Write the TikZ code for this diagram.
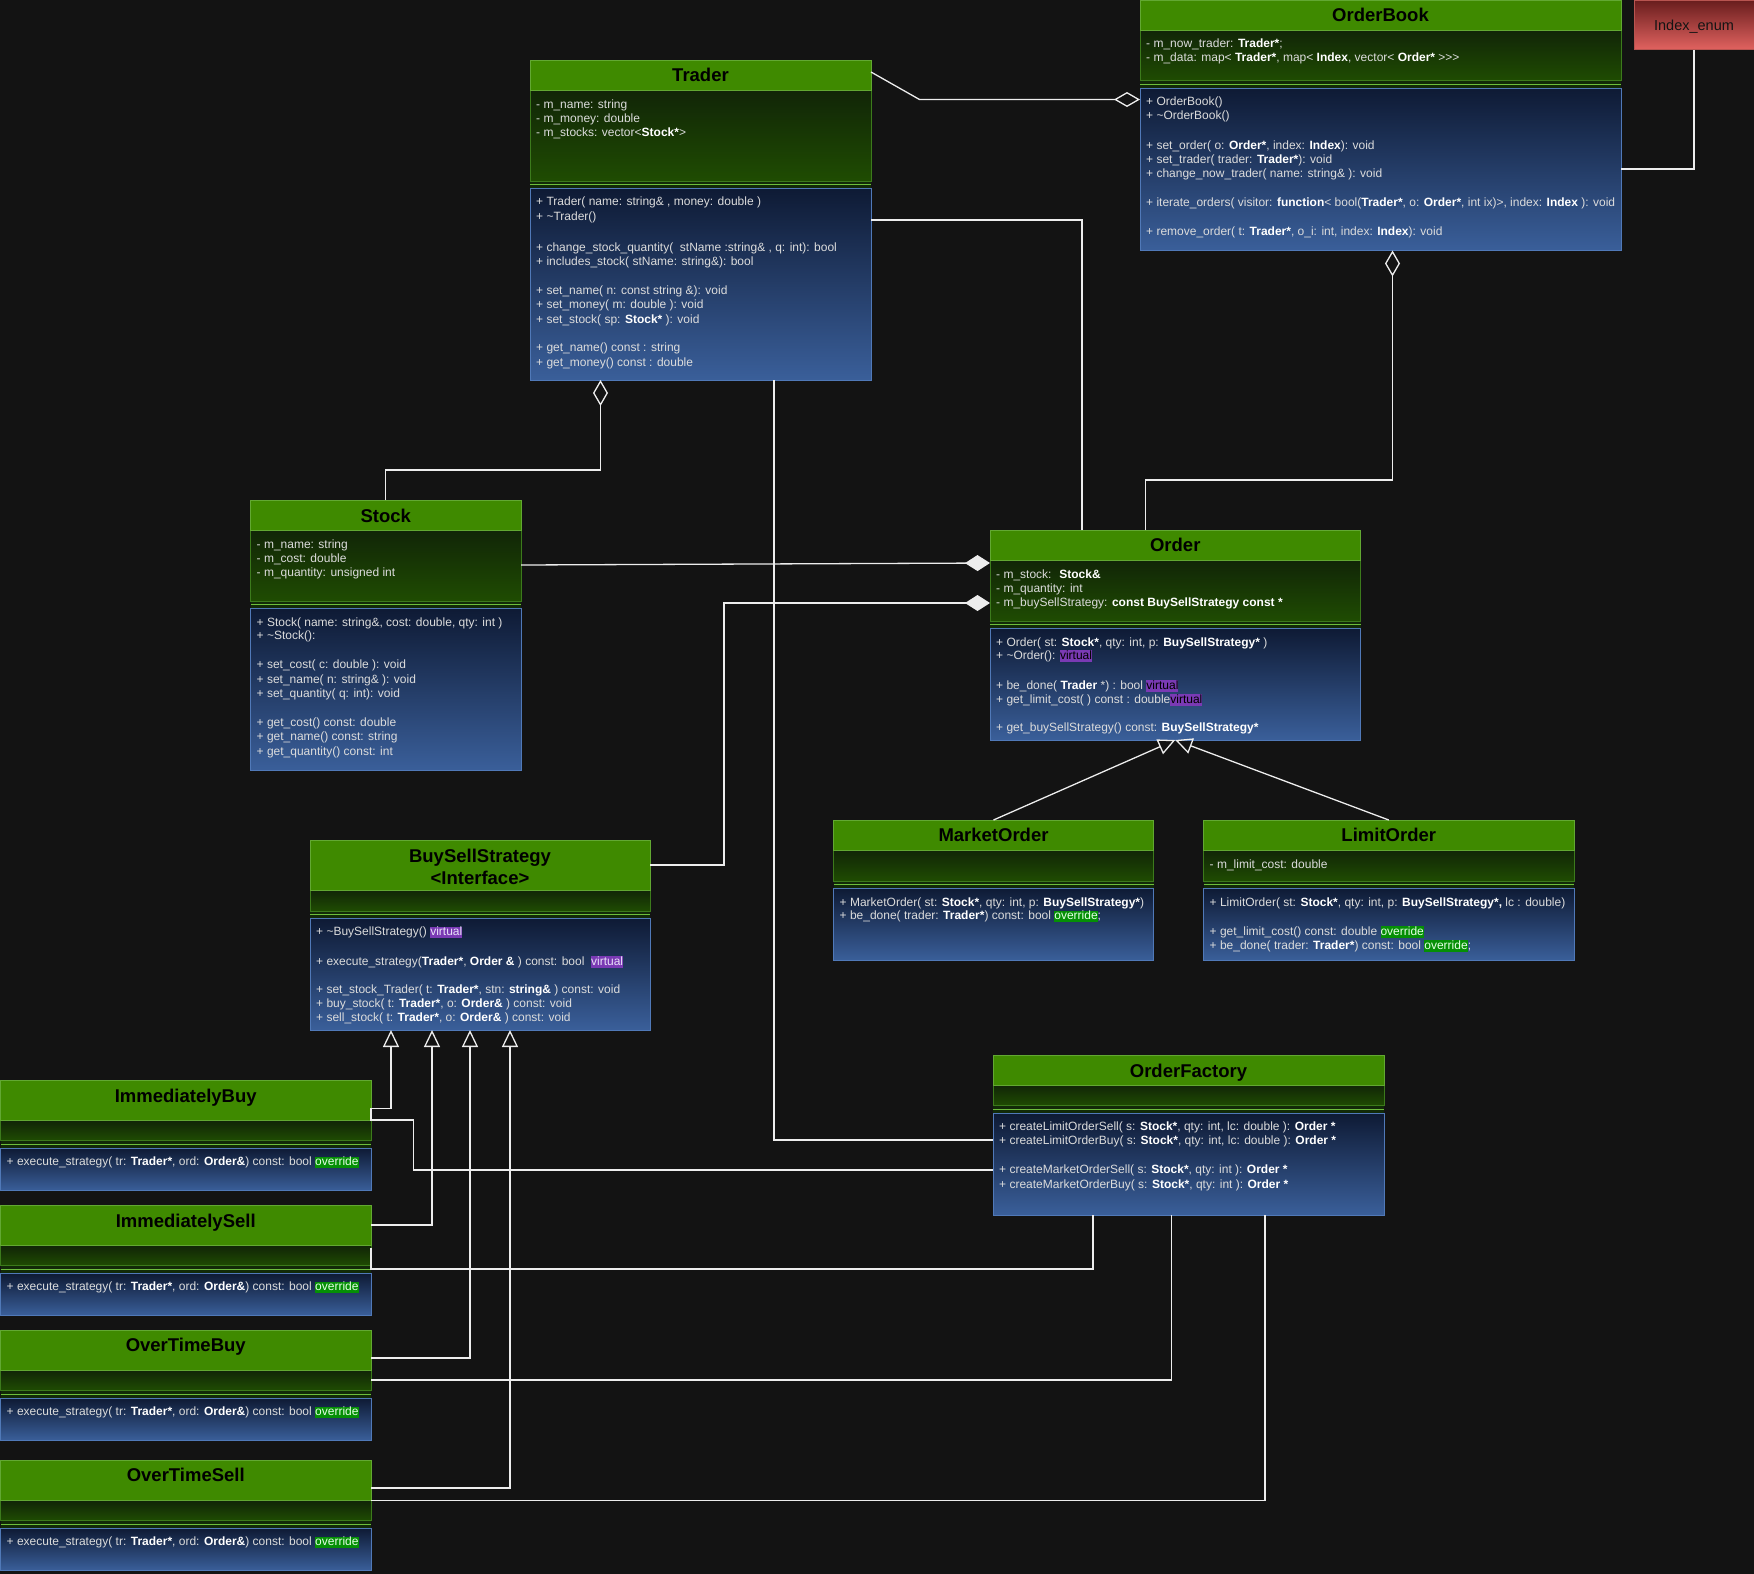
\documentclass[tikz,border=0pt]{standalone}
\usepackage{fontspec}
\setmainfont{Liberation Sans}
\usetikzlibrary{arrows.meta,fit}

\definecolor{bg}{HTML}{131313}
\definecolor{hdr}{HTML}{3F8A00}
\definecolor{hdrline}{HTML}{62A832}
\definecolor{attrtop}{HTML}{112507}
\definecolor{attrbot}{HTML}{1F4C02}
\definecolor{attrline}{HTML}{3C7A1C}
\definecolor{divfill}{HTML}{122A08}
\definecolor{divline}{HTML}{6DBE3C}
\definecolor{mtop}{HTML}{0E1A34}
\definecolor{mbot}{HTML}{3A5F9A}
\definecolor{mline}{HTML}{5079B8}
\definecolor{memtext}{HTML}{DCDCDC}
\definecolor{memwhite}{HTML}{FFFFFF}
\definecolor{virtbg}{HTML}{7A3AB4}
\definecolor{virttext}{HTML}{E8E0F8}
\definecolor{ovrbg}{HTML}{058F05}
\definecolor{ovrtext}{HTML}{E4FFE4}
\definecolor{enumtop}{HTML}{6A1E1E}
\definecolor{enumbot}{HTML}{E0625F}
\definecolor{enumline}{HTML}{B85450}
\definecolor{wire}{HTML}{EDEDED}

\tikzset{
  member/.style={anchor=base west, inner sep=0pt, text=memtext,
    font=\fontsize{12}{14.4}\selectfont},
  ctitle/.style={anchor=base, inner sep=0pt, text=black,
    font=\fontsize{18.5}{20}\selectfont\bfseries},
  conn/.style={draw=wire, line width=1.3pt},
  aggr/.style={conn, -{Diamond[open,length=26pt,width=15pt]}},
  comp/.style={conn, -{Diamond[fill=wire,length=25pt,width=16pt]}},
  inh/.style={conn, -{Triangle[open,length=17pt,width=16pt]}},
}

% bold type names inside member lines
\newcommand\bt[1]{{\bfseries\color{memwhite}#1}}
% highlighted keywords
\newcommand\hlword[3]{{\fboxsep=0pt\colorbox{#1}{\rule[-2.7pt]{0pt}{11.8pt}\color{#2}#3}}}
\newcommand\virt{\hlword{virtbg}{black}{virtual}}
\newcommand\virtl{\hlword{virtbg}{virttext}{virtual}}
\newcommand\ovr{\hlword{ovrbg}{ovrtext}{override}}

% one member line: left edge of the class, vertical centre, text
\newcounter{memno}
\newcommand\mem[3]{\stepcounter{memno}\edef\memname{member-\arabic{memno}}%
  \node[member] (\memname) at (#1+6,#2+4) {#3};}

% class box: name, x1, x2, top, header bottom, attribute bottom, divider bottom, bottom
\newcommand\classbox[8]{%
  \shade[top color=attrtop, bottom color=attrbot] (#2,#5) rectangle (#3,#6);
  \fill[divfill] (#2,#6) rectangle (#3,#7);
  \shade[top color=mtop, bottom color=mbot] (#2,#7) rectangle (#3,#8);
  \fill[hdr] (#2,#4) rectangle (#3,#5);
  \draw[attrline, line width=1pt] (#2,#5) rectangle (#3,#6);
  \draw[divline, line width=1pt] (#2,{(#6+#7)/2}) -- (#3,{(#6+#7)/2});
  \draw[mline, line width=1pt] (#2,#7) rectangle (#3,#8);
  \draw[hdrline, line width=1pt] (#2,#4) rectangle (#3,#5);
  \coordinate (#1-nw) at (#2,#4);
  \coordinate (#1-se) at (#3,#8);
  \node[fit=(#1-nw)(#1-se), inner sep=0pt, outer sep=0pt] (#1) {};
}

\begin{document}
\begin{tikzpicture}[x=1pt, y=-1pt]
\fill[bg] (0,0) rectangle (1754,1574);
\useasboundingbox (0,0) rectangle (1754,1574);

% ---------- Trader ----------
\classbox{trader}{530}{871}{60}{90}{181}{188}{380}
\node[ctitle] (trader-title) at (700.5,81.6) {Trader};
\mem{530}{104}{- m\_name: string}
\mem{530}{118}{- m\_money: double}
\mem{530}{132.7}{- m\_stocks: vector<\bt{Stock*}>}
\mem{530}{201.7}{+ Trader( name: string\& , money: double )}
\mem{530}{216.3}{+ \textasciitilde Trader()}
\mem{530}{247.7}{+ change\_stock\_quantity( \ stName :string\& , q: int): bool}
\mem{530}{261.7}{+ includes\_stock( stName: string\&): bool}
\mem{530}{290.7}{+ set\_name( n: const string \&): void}
\mem{530}{304.7}{+ set\_money( m: double ): void}
\mem{530}{319.7}{+ set\_stock( sp: \bt{Stock*} ): void}
\mem{530}{347.7}{+ get\_name() const : string}
\mem{530}{362.3}{+ get\_money() const : double}

% ---------- OrderBook ----------
\classbox{orderbook}{1140}{1621}{0.5}{30.5}{80.5}{88}{250.5}
\node[ctitle] (orderbook-title) at (1380.5,21.6) {OrderBook};
\mem{1140}{43.3}{- m\_now\_trader: \bt{Trader*};}
\mem{1140}{57.7}{- m\_data: map< \bt{Trader*}, map< \bt{Index}, vector< \bt{Order*} >{}>{}>}
\mem{1140}{101}{+ OrderBook()}
\mem{1140}{115.7}{+ \textasciitilde OrderBook()}
\mem{1140}{145}{+ set\_order( o: \bt{Order*}, index: \bt{Index}): void}
\mem{1140}{159.7}{+ set\_trader( trader: \bt{Trader*}): void}
\mem{1140}{173.7}{+ change\_now\_trader( name: string\& ): void}
\mem{1140}{202.3}{+ iterate\_orders( visitor: \bt{function}< bool(\bt{Trader*}, o: \bt{Order*}, int ix)>, index: \bt{Index} ): void}
\mem{1140}{231.3}{+ remove\_order( t: \bt{Trader*}, o\_i: int, index: \bt{Index}): void}

% ---------- Index_enum ----------
\node[draw=enumline, line width=1pt, top color=enumtop, bottom color=enumbot,
      minimum width=120pt, minimum height=48.5pt, inner sep=0pt,
      font=\fontsize{14.5}{16}\selectfont, text=black!92, text depth=0pt]
  (indexenum) at (1694,25) {Index\_enum};

% ---------- Stock ----------
\classbox{stock}{250.5}{521}{500}{530}{601}{608}{770.5}
\node[ctitle] (stock-title) at (385.75,522.2) {Stock};
\mem{250.5}{544}{- m\_name: string}
\mem{250.5}{558}{- m\_cost: double}
\mem{250.5}{572.7}{- m\_quantity: unsigned int}
\mem{250.5}{622}{+ Stock( name: string\&, cost: double, qty: int )}
\mem{250.5}{635.7}{+ \textasciitilde Stock():}
\mem{250.5}{664.7}{+ set\_cost( c: double ): void}
\mem{250.5}{679}{+ set\_name( n: string\& ): void}
\mem{250.5}{693.7}{+ set\_quantity( q: int): void}
\mem{250.5}{722.7}{+ get\_cost() const: double}
\mem{250.5}{736.7}{+ get\_name() const: string}
\mem{250.5}{751.7}{+ get\_quantity() const: int}

% ---------- Order ----------
\classbox{order}{990}{1360.5}{530}{560}{621}{628}{740}
\node[ctitle] (order-title) at (1175.25,551.6) {Order};
\mem{990}{574}{- m\_stock: \ \bt{Stock\&}}
\mem{990}{588}{- m\_quantity: int}
\mem{990}{602.7}{- m\_buySellStrategy: \bt{const BuySellStrategy const *}}
\mem{990}{642}{+ Order( st: \bt{Stock*}, qty: int, p: \bt{BuySellStrategy*} )}
\mem{990}{655.3}{+ \textasciitilde Order(): \virt}
\mem{990}{685}{+ be\_done( \bt{Trader} *) : bool \virt}
\mem{990}{699.3}{+ get\_limit\_cost( ) const : double\virt}
\mem{990}{727.3}{+ get\_buySellStrategy() const: \bt{BuySellStrategy*}}

% ---------- MarketOrder ----------
\classbox{marketorder}{833.5}{1153.5}{820}{850}{881}{888}{960.5}
\node[ctitle] (marketorder-title) at (993.5,841.6) {MarketOrder};
\mem{833.5}{902.3}{+ MarketOrder( st: \bt{Stock*}, qty: int, p: \bt{BuySellStrategy*})}
\mem{833.5}{915.7}{+ be\_done( trader: \bt{Trader*}) const: bool \ovr;}

% ---------- LimitOrder ----------
\classbox{limitorder}{1203.5}{1574}{820}{850}{881}{888}{960.5}
\node[ctitle] (limitorder-title) at (1388.75,841.6) {LimitOrder};
\mem{1203.5}{864}{- m\_limit\_cost: double}
\mem{1203.5}{902.3}{+ LimitOrder( st: \bt{Stock*}, qty: int, p: \bt{BuySellStrategy*,} lc : double)}
\mem{1203.5}{931}{+ get\_limit\_cost() const: double \ovr}
\mem{1203.5}{945}{+ be\_done( trader: \bt{Trader*}) const: bool \ovr;}

% ---------- BuySellStrategy ----------
\classbox{bss}{310}{650}{840}{890}{911}{918}{1030}
\node[ctitle] (bss-title) at (480,862.3) {BuySellStrategy};
\node[ctitle] (bss-stereo) at (480,884.3) {<Interface>};
\mem{310}{931.7}{+ \textasciitilde BuySellStrategy() \virtl}
\mem{310}{961}{+ execute\_strategy(\bt{Trader*}, \bt{Order \&} ) const: bool \ \virtl}
\mem{310}{989.7}{+ set\_stock\_Trader( t: \bt{Trader*}, stn: \bt{string\&} ) const: void}
\mem{310}{1003.7}{+ buy\_stock( t: \bt{Trader*}, o: \bt{Order\&} ) const: void}
\mem{310}{1017.7}{+ sell\_stock( t: \bt{Trader*}, o: \bt{Order\&} ) const: void}

% ---------- OrderFactory ----------
\classbox{orderfactory}{993}{1384}{1055}{1085}{1105.7}{1113}{1215}
\node[ctitle] (orderfactory-title) at (1188.5,1077.1) {OrderFactory};
\mem{993}{1126.7}{+ createLimitOrderSell( s: \bt{Stock*}, qty: int, lc: double ): \bt{Order *}}
\mem{993}{1140.7}{+ createLimitOrderBuy( s: \bt{Stock*}, qty: int, lc: double ): \bt{Order *}}
\mem{993}{1169.3}{+ createMarketOrderSell( s: \bt{Stock*}, qty: int ): \bt{Order *}}
\mem{993}{1184.7}{+ createMarketOrderBuy( s: \bt{Stock*}, qty: int ): \bt{Order *}}

% ---------- concrete strategies ----------
\classbox{immbuy}{0.5}{371}{1080}{1120.7}{1140.7}{1148}{1190.7}
\node[ctitle] (immbuy-title) at (185.75,1102.3) {ImmediatelyBuy};
\mem{0.5}{1161.7}{+ execute\_strategy( tr: \bt{Trader*}, ord: \bt{Order\&}) const: bool \ovr}

\classbox{immsell}{0.5}{371}{1205.3}{1245.7}{1265.7}{1273.3}{1315.3}
\node[ctitle] (immsell-title) at (185.75,1227.3) {ImmediatelySell};
\mem{0.5}{1286.7}{+ execute\_strategy( tr: \bt{Trader*}, ord: \bt{Order\&}) const: bool \ovr}

\classbox{otbuy}{0.5}{371}{1330.3}{1370.3}{1390.3}{1398.3}{1440.3}
\node[ctitle] (otbuy-title) at (185.75,1351.6) {OverTimeBuy};
\mem{0.5}{1411.7}{+ execute\_strategy( tr: \bt{Trader*}, ord: \bt{Order\&}) const: bool \ovr}

\classbox{otsell}{0.5}{371}{1460.3}{1500.7}{1520.7}{1528.3}{1570.3}
\node[ctitle] (otsell-title) at (185.75,1481.6) {OverTimeSell};
\mem{0.5}{1541.7}{+ execute\_strategy( tr: \bt{Trader*}, ord: \bt{Order\&}) const: bool \ovr}

% ---------- connectors ----------
% aggregations
\draw[aggr] (trader.north east |- 0,72) -- (919.5,99.5) -- (orderbook.west |- 0,99.5);
\draw[aggr] (stock.north) |- (600.5,470) -- (trader.south -| 600.5,0);
\draw[aggr] (order.north -| 1145.5,0) |- (1392.5,480) -- (orderbook.south -| 1392.5,0);
% compositions
\draw[comp] (stock.east |- 0,565) -- (order.west |- 0,563);
\draw[comp] (bss.east |- 0,865) -| (724,603) -- (order.west |- 0,603);
% plain associations
\draw[conn] (trader.east |- 0,220) -| (order.north west -| 1082,0);
\draw[conn] (indexenum.south) |- (orderbook.east |- 0,169);
\draw[conn] (trader.south -| 774,0) |- (orderfactory.west |- 0,1140);
\draw[conn] (orderfactory.west |- 0,1170) -| (413.3,1120) -- (immbuy.east |- 0,1120) -- (immbuy.east |- 0,1108.3);
\draw[conn] (orderfactory.south -| 1093,0) |- (immsell.east |- 0,1269) -- (immsell.east |- 0,1248);
\draw[conn] (orderfactory.south -| 1171.5,0) |- (otbuy.east |- 0,1380);
\draw[conn] (orderfactory.south -| 1265,0) |- (otsell.east |- 0,1500.5);
% generalisations
\draw[inh] (marketorder.north) -- (order.south);
\draw[inh] (limitorder.north) -- (order.south);
\draw[inh] (immbuy.east |- 0,1108.3) -| (bss.south -| 391,0);
\draw[inh] (immsell.east |- 0,1225) -| (bss.south -| 432,0);
\draw[inh] (otbuy.east |- 0,1358) -| (bss.south -| 470,0);
\draw[inh] (otsell.east |- 0,1488) -| (bss.south -| 510,0);
\end{tikzpicture}
\end{document}
